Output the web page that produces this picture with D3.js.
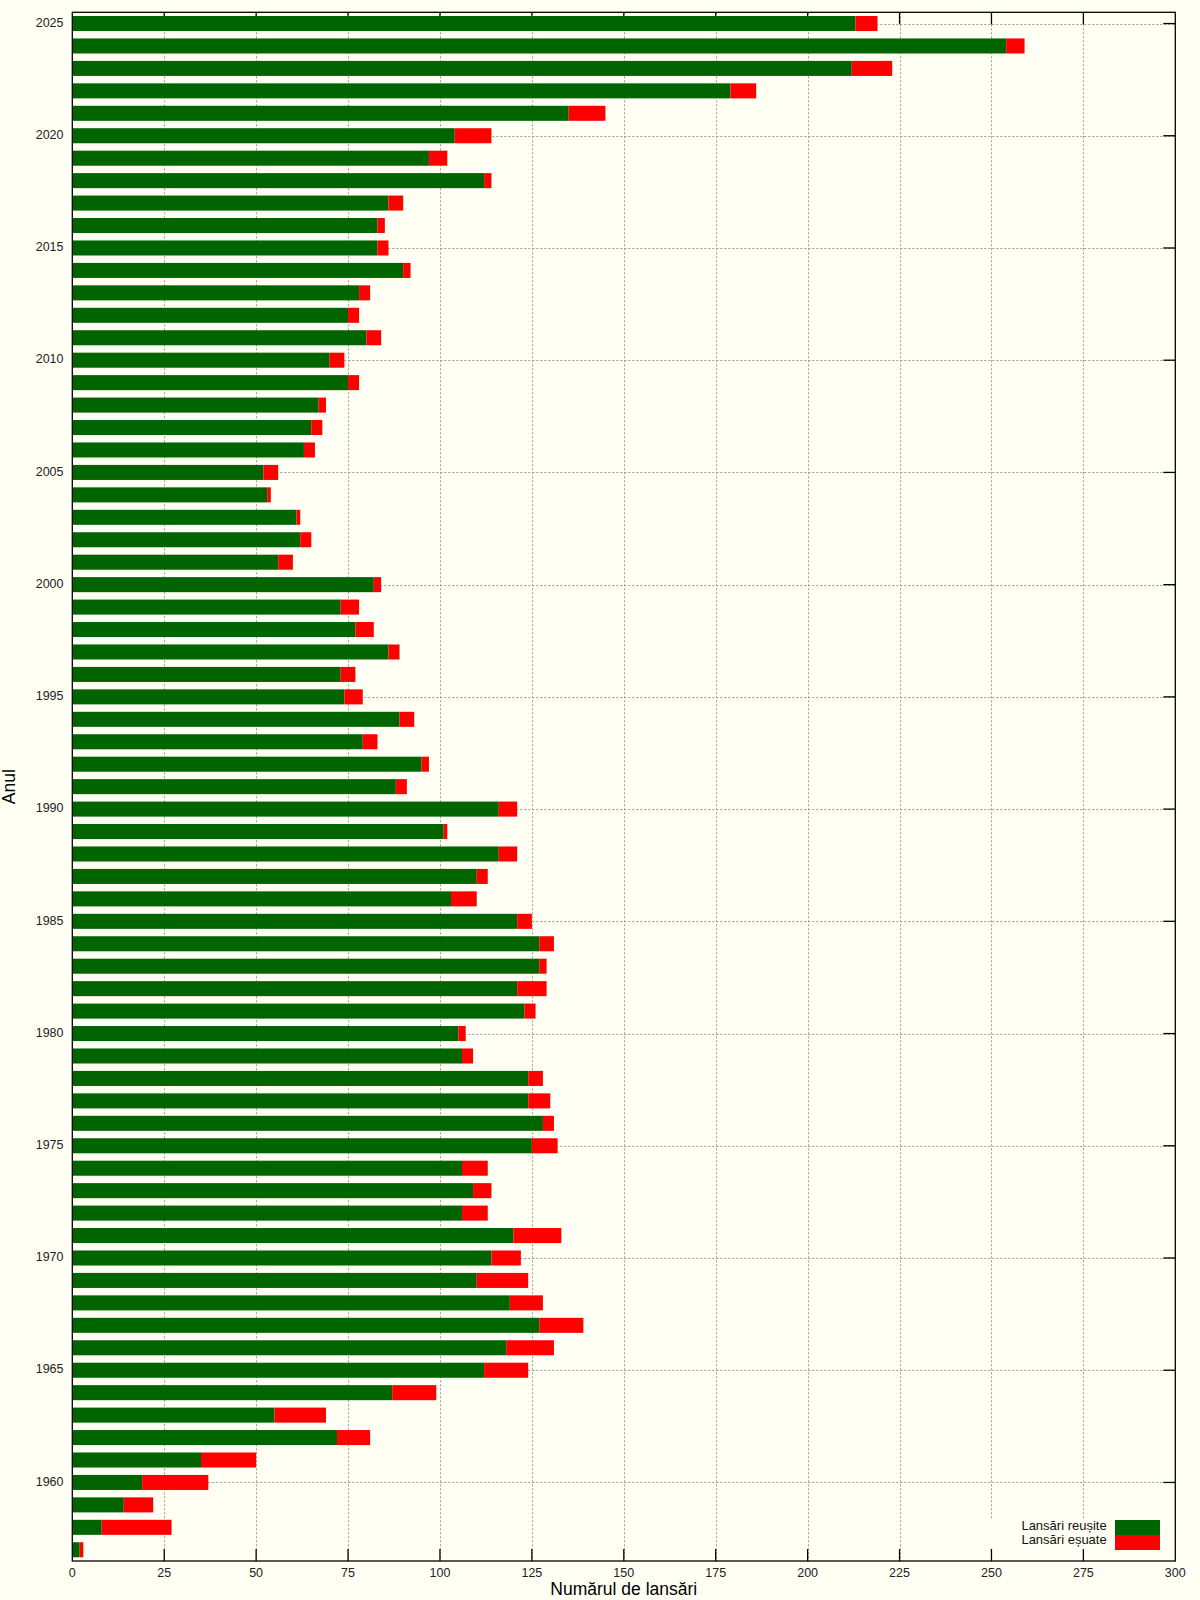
<!DOCTYPE html>
<html>
<head>
<meta charset="utf-8">
<script src="https://cdn.jsdelivr.net/npm/d3@7"></script>
<style>
  html, body { margin: 0; padding: 0; background: #fffff4; }
  svg { display: block; }
  text { font-family: "Liberation Sans", Arial, sans-serif; }
</style>
</head>
<body>
<svg id="chart" width="1200" height="1600"></svg>
<script>
const years = [2025,2024,2023,2022,2021,2020,2019,2018,2017,2016,2015,2014,2013,2012,2011,2010,2009,2008,2007,2006,2005,2004,2003,2002,2001,2000,1999,1998,1997,1996,1995,1994,1993,1992,1991,1990,1989,1988,1987,1986,1985,1984,1983,1982,1981,1980,1979,1978,1977,1976,1975,1974,1973,1972,1971,1970,1969,1968,1967,1966,1965,1964,1963,1962,1961,1960,1959,1958,1957];
const successes = [213,254,212,179,135,104,97,112,86,83,83,90,78,75,80,70,75,67,65,63,52,53,61,62,56,82,73,77,86,73,74,89,79,95,88,116,101,116,110,103,121,127,127,121,123,105,106,124,124,128,125,106,109,106,120,114,110,119,127,118,112,87,55,72,35,19,14,8,2];
const failures  = [6,5,11,7,10,10,5,2,4,2,3,2,3,3,4,4,3,2,3,3,4,1,1,3,4,2,5,5,3,4,5,4,4,2,3,5,1,5,3,7,4,4,2,8,3,2,3,4,6,3,7,7,5,7,13,8,14,9,12,13,12,12,14,9,15,18,8,19,1];
const xTicks = [0,25,50,75,100,125,150,175,200,225,250,275,300];
const yTickYears = [2025,2020,2015,2010,2005,2000,1995,1990,1985,1980,1975,1970,1965,1960];
const seriesNames = ["Lansări reușite","Lansări eșuate"];
const seriesColors = ["#006400","#ff0000"];

const svg = d3.select("#chart");
const L = 72.3, R = 1175.3, T = 12.3, B = 1561;

svg.append("rect").attr("width",1200).attr("height",1600).attr("fill","#fffff4");

const x = d3.scaleLinear().domain([0,300]).range([L,R]);
const y = d3.scaleBand().domain(years).range([T,B]).paddingInner(0.33).paddingOuter(0.165);
const yc = yr => y(yr) + y.bandwidth()/2;

const rows = years.map((yr,i)=>({year:yr, s:successes[i], f:failures[i]}));

// grid
const grid = svg.append("g").attr("stroke","#9a9a9a").attr("stroke-dasharray","2,2").attr("stroke-width",1);
grid.selectAll(".gx").data(xTicks.filter(t=>t>0&&t<300)).enter().append("line")
  .attr("x1",d=>Math.round(x(d))+0.5).attr("x2",d=>Math.round(x(d))+0.5)
  .attr("y1",T).attr("y2",B);
grid.selectAll(".gy").data(yTickYears).enter().append("line")
  .attr("x1",L).attr("x2",R)
  .attr("y1",d=>Math.round(yc(d))+0.5).attr("y2",d=>Math.round(yc(d))+0.5);

// legend mask
svg.append("rect").attr("x",985).attr("y",1519).attr("width",R-985).attr("height",B-1519).attr("fill","#fffff4");

// ticks (inward)
const tk = svg.append("g").attr("stroke","#000").attr("stroke-width",1.3);
xTicks.filter(t=>t>0&&t<300).forEach(t=>{
  const px = x(t);
  tk.append("line").attr("x1",px).attr("x2",px).attr("y1",B).attr("y2",B-12);
  tk.append("line").attr("x1",px).attr("x2",px).attr("y1",T).attr("y2",T+12);
});
yTickYears.forEach(yr=>{
  const py = yc(yr);
  tk.append("line").attr("x1",R).attr("x2",R-12).attr("y1",py).attr("y2",py);
  tk.append("line").attr("x1",L).attr("x2",L+12).attr("y1",py).attr("y2",py);
});

// bars
const bars = svg.append("g");
bars.selectAll(".s").data(rows).enter().append("rect")
  .attr("x",x(0)).attr("y",d=>y(d.year)).attr("height",y.bandwidth())
  .attr("width",d=>x(d.s)-x(0)).attr("fill",seriesColors[0]);
bars.selectAll(".f").data(rows).enter().append("rect")
  .attr("x",d=>x(d.s)).attr("y",d=>y(d.year)).attr("height",y.bandwidth())
  .attr("width",d=>x(d.s+d.f)-x(d.s)).attr("fill",seriesColors[1]);

// frame
svg.append("rect").attr("x",L).attr("y",T).attr("width",R-L).attr("height",B-T)
  .attr("fill","none").attr("stroke","#000").attr("stroke-width",1.3);

// tick labels
svg.append("g").selectAll("text").data(xTicks).enter().append("text")
  .attr("x",d=>x(d)).attr("y",1576.5).attr("text-anchor","middle")
  .attr("font-size",12.5).attr("fill","#222").text(d=>d);
svg.append("g").selectAll("text").data(yTickYears).enter().append("text")
  .attr("x",63.5).attr("y",d=>yc(d)+3.2).attr("text-anchor","end")
  .attr("font-size",12.5).attr("fill","#222").text(d=>d);

// axis titles
svg.append("text").attr("transform",`translate(15,${(T+B)/2}) rotate(-90)`)
  .attr("text-anchor","middle").attr("font-size",17.5).attr("fill","#000").text("Anul");
svg.append("text").attr("x",(L+R)/2).attr("y",1595).attr("text-anchor","middle")
  .attr("font-size",17.5).attr("fill","#000").text("Numărul de lansări");

// legend
seriesNames.forEach((n,i)=>{
  svg.append("text").attr("x",1106.7).attr("y",1529.5+i*14.7).attr("text-anchor","end")
    .attr("font-size",13).attr("fill","#111").text(n);
  svg.append("rect").attr("x",1115).attr("y",1520+i*15).attr("width",45).attr("height",15)
    .attr("fill",seriesColors[i]);
});
</script>
</body>
</html>
